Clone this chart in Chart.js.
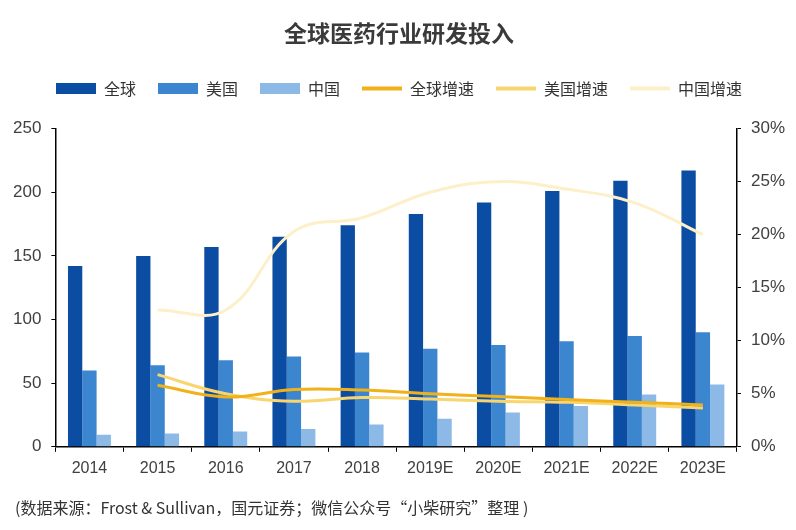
<!DOCTYPE html>
<html>
<head>
<meta charset="utf-8">
<script src="https://cdn.jsdelivr.net/npm/chart.js@4/dist/chart.umd.min.js"></script>
<style>
  html, body { margin: 0; padding: 0; background: #fff; }
  #wrap { width: 796px; height: 530px; position: relative; }
  #note {
    position: absolute; left: 15px; top: 496px;
    font: 16px "Noto Sans CJK SC", "Liberation Sans", sans-serif;
    color: #333; line-height: 22px; white-space: nowrap;
  }
</style>
</head>
<body>
<div id="wrap">
  <canvas id="chart"></canvas>
  <div id="note">(数据来源：Frost &amp; Sullivan，国元证券；微信公众号“小柴研究”整理 )</div>
</div>
<script>
// 全球医药行业研发投入（十亿美元）与增速
const years = ['2014', '2015', '2016', '2017', '2018', '2019E', '2020E', '2021E', '2022E', '2023E'];
const globalSpend = [142, 150, 157, 165, 174, 183, 192, 201, 209, 217];
const usSpend = [60, 64, 68, 71, 74, 77, 80, 83, 87, 90];
const chinaSpend = [9.5, 10.5, 12, 14, 17.5, 22, 27, 32, 41, 49];
const globalGrowth = [null, 5.8, 4.7, 5.4, 5.35, 5.0, 4.75, 4.45, 4.2, 3.95];
const usGrowth = [null, 6.8, 5.0, 4.3, 4.65, 4.5, 4.3, 4.2, 3.95, 3.65];
const chinaGrowth = [null, 12.9, 12.9, 20.3, 21.6, 24.0, 25.0, 24.3, 23.0, 20.0];

const textColor = '#404040';
const cjk = '"Noto Sans CJK SC", "Liberation Sans", sans-serif';
const latin = '"Liberation Sans", Arial, sans-serif';

function barSet(label, data, color) {
    return { type: 'bar', label: label, data: data, backgroundColor: color, yAxisID: 'y', order: 1 };
}

function lineSet(label, data, color) {
    return {
        type: 'line', label: label, data: data, borderColor: color, backgroundColor: color,
        borderWidth: 3, pointRadius: 0, tension: 0.4, yAxisID: 'y1', order: 0
    };
}

// extra room between the legend and the plot
const legendGap = {
    id: 'legendGap',
    beforeInit(chart) {
        const fit = chart.legend.fit;
        chart.legend.fit = function () {
            fit.call(this);
            this.height += 22;
        };
    }
};

new Chart(document.getElementById('chart').getContext('2d'), {
    data: {
        labels: years,
        datasets: [
            barSet('全球', globalSpend, '#0B4DA2'),
            barSet('美国', usSpend, '#3C86CF'),
            barSet('中国', chinaSpend, '#8DB9E6'),
            lineSet('全球增速', globalGrowth, '#F1B11A'),
            lineSet('美国增速', usGrowth, '#F8D56E'),
            lineSet('中国增速', chinaGrowth, '#FDF0C9')
        ]
    },
    plugins: [legendGap],
    options: {
        responsive: true,
        maintainAspectRatio: false,
        animation: false,
        datasets: { bar: { barPercentage: 1, categoryPercentage: 0.63 } },
        layout: { padding: { left: 3, right: 1, top: 14, bottom: 45 } },
        plugins: {
            tooltip: { enabled: false },
            title: {
                display: true,
                text: '全球医药行业研发投入',
                color: '#3a3a3a',
                font: { family: cjk, size: 23, weight: 'bold' },
                padding: { top: 5, bottom: 12 }
            },
            legend: {
                position: 'top',
                labels: {
                    usePointStyle: true,
                    pointStyleWidth: 40,
                    boxHeight: 11,
                    padding: 22,
                    color: '#333333',
                    font: { family: cjk, size: 16 },
                    sort: (a, b) => a.datasetIndex - b.datasetIndex,
                    generateLabels: function (chart) {
                        const items = Chart.defaults.plugins.legend.labels.generateLabels(chart);
                        items.forEach(function (item) {
                            const ds = chart.data.datasets[item.datasetIndex];
                            if (ds.type === 'line') {
                                item.pointStyle = 'line';
                                item.lineWidth = 4;
                                item.strokeStyle = ds.borderColor;
                            } else {
                                item.pointStyle = 'rect';
                                item.lineWidth = 0;
                            }
                        });
                        return items;
                    }
                }
            }
        },
        scales: {
            x: {
                grid: { display: true, drawOnChartArea: false, color: '#000', tickLength: 5 },
                border: { color: '#000', width: 1.5 },
                ticks: { color: textColor, font: { family: latin, size: 16 }, padding: 7 }
            },
            y: {
                position: 'left',
                min: 0, max: 250,
                grid: { display: true, drawOnChartArea: false, color: '#000', tickLength: 4 },
                border: { color: '#000', width: 1.5 },
                ticks: { stepSize: 50, color: textColor, font: { family: latin, size: 17 }, padding: 10 }
            },
            y1: {
                position: 'right',
                min: 0, max: 30,
                grid: { display: true, drawOnChartArea: false, color: '#000', tickLength: 4 },
                border: { color: '#000', width: 1.5 },
                ticks: {
                    stepSize: 5, color: textColor, font: { family: latin, size: 17 }, padding: 10,
                    callback: v => v + '%'
                }
            }
        }
    }
});
</script>
</body>
</html>
